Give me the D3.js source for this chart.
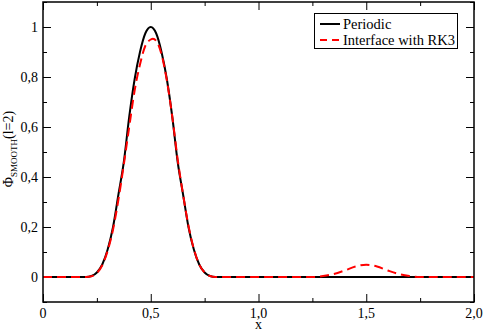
<!DOCTYPE html>
<html>
<head>
<meta charset="utf-8">
<script src="https://cdn.jsdelivr.net/npm/d3@7"></script>
<style>
  body { margin: 0; background: #fff; }
</style>
</head>
<body>
<div id="main"></div>
<script>
// values
var periodicX = [0, 0.1, 0.2, 0.225, 0.25, 0.275, 0.3, 0.325, 0.35, 0.375, 0.4, 0.425, 0.45, 0.475, 0.5,
                 0.525, 0.55, 0.575, 0.6, 0.625, 0.65, 0.675, 0.7, 0.725, 0.75, 0.775, 0.8, 0.9, 1.0, 1.5, 2.0];
var periodicY = [0, 0, 0, 0.004, 0.018, 0.05, 0.11, 0.2, 0.33, 0.46, 0.64, 0.79, 0.9, 0.975, 1.0,
                 0.975, 0.9, 0.79, 0.64, 0.46, 0.33, 0.2, 0.11, 0.05, 0.018, 0.004, 0, 0, 0, 0, 0];

var rk3X = [0, 0.1, 0.2, 0.225, 0.25, 0.275, 0.3, 0.325, 0.35, 0.375, 0.4, 0.425, 0.45, 0.475, 0.5, 0.51,
            0.525, 0.55, 0.575, 0.6, 0.625, 0.65, 0.675, 0.7, 0.725, 0.75, 0.775, 0.8, 0.9, 1.0,
            1.25, 1.3, 1.35, 1.4, 1.45, 1.5, 1.55, 1.6, 1.65, 1.7, 1.75, 2.0];
var rk3Y = [0, 0, 0, 0.003, 0.016, 0.047, 0.105, 0.19, 0.31, 0.45, 0.6, 0.745, 0.85, 0.925, 0.95, 0.953,
            0.945, 0.89, 0.785, 0.64, 0.47, 0.33, 0.205, 0.112, 0.05, 0.018, 0.004, 0, 0, 0,
            0, 0.004, 0.012, 0.026, 0.042, 0.049, 0.042, 0.026, 0.012, 0.004, 0, 0];

var xMajor = [0, 0.5, 1.0, 1.5, 2.0];
var xMajorLabels = ["0", "0,5", "1,0", "1,5", "2,0"];
var xMinor = [0.25, 0.75, 1.25, 1.75];
var yMajor = [0, 0.2, 0.4, 0.6, 0.8, 1];
var yMajorLabels = ["0", "0,2", "0,4", "0,6", "0,8", "1"];
var yMinor = [-0.1, 0.1, 0.3, 0.5, 0.7, 0.9, 1.1];
var seriesNames = ["Periodic", "Interface with RK3"];

var width = 485, height = 331;
var pl = 43, pr = 474, pt = 2, pb = 302;
var serif = 'Liberation Serif';

var svg = d3.select('#main').append('svg')
    .attr('width', width).attr('height', height);

var x = d3.scaleLinear().domain([0, 2]).range([pl, pr]);
var y = d3.scaleLinear().domain([-0.1, 1.1]).range([pb, pt]);

// inward ticks on all four sides
function ticks(g, axis, size) {
    g.call(axis.tickSize(size).tickFormat(''));
    g.select('.domain').remove();
    g.selectAll('line').attr('stroke', '#000').attr('stroke-width', 1);
}
svg.append('g').attr('transform', 'translate(0,' + pb + ')')
    .call(ticks, d3.axisTop(x).tickValues(xMajor), 8);
svg.append('g').attr('transform', 'translate(0,' + pb + ')')
    .call(ticks, d3.axisTop(x).tickValues(xMinor), 4);
svg.append('g').attr('transform', 'translate(0,' + pt + ')')
    .call(ticks, d3.axisBottom(x).tickValues(xMajor), 8);
svg.append('g').attr('transform', 'translate(0,' + pt + ')')
    .call(ticks, d3.axisBottom(x).tickValues(xMinor), 4);
svg.append('g').attr('transform', 'translate(' + pl + ',0)')
    .call(ticks, d3.axisRight(y).tickValues(yMajor), 8);
svg.append('g').attr('transform', 'translate(' + pl + ',0)')
    .call(ticks, d3.axisRight(y).tickValues(yMinor), 4);
svg.append('g').attr('transform', 'translate(' + pr + ',0)')
    .call(ticks, d3.axisLeft(y).tickValues(yMajor), 8);
svg.append('g').attr('transform', 'translate(' + pr + ',0)')
    .call(ticks, d3.axisLeft(y).tickValues(yMinor), 4);

// tick labels
svg.selectAll('.xl').data(xMajor).enter().append('text')
    .attr('x', function(d) { return x(d); }).attr('y', 318)
    .attr('text-anchor', 'middle').attr('font-size', 14).attr('font-family', serif)
    .text(function(d, i) { return xMajorLabels[i]; });
svg.selectAll('.yl').data(yMajor).enter().append('text')
    .attr('x', 38).attr('y', function(d) { return y(d) + 5; })
    .attr('text-anchor', 'end').attr('font-size', 14).attr('font-family', serif)
    .text(function(d, i) { return yMajorLabels[i]; });

// axis titles
svg.append('text').attr('x', (pl + pr) / 2).attr('y', 329)
    .attr('text-anchor', 'middle').attr('font-size', 14).attr('font-family', serif).text('x');
var yt = svg.append('text').attr('transform', 'translate(13,149) rotate(-90)')
    .attr('text-anchor', 'middle').attr('font-size', 14).attr('font-family', serif);
yt.append('tspan').text('Φ');
yt.append('tspan').attr('font-size', 9).attr('dy', 4).text('SMOOTH');
yt.append('tspan').attr('dy', -4).text('(l=2)');

// curves
var line = d3.line()
    .x(function(d) { return x(d[0]); })
    .y(function(d) { return y(d[1]); })
    .curve(d3.curveMonotoneX);

svg.append('path').datum(d3.zip(periodicX, periodicY))
    .attr('d', line).attr('fill', 'none')
    .attr('stroke', '#000').attr('stroke-width', 2);
svg.append('path').datum(d3.zip(rk3X, rk3Y))
    .attr('d', line).attr('fill', 'none')
    .attr('stroke', '#ff0000').attr('stroke-width', 2)
    .attr('stroke-dasharray', '9,5');

// frame
svg.append('rect').attr('x', pl).attr('y', pt)
    .attr('width', pr - pl).attr('height', pb - pt)
    .attr('fill', 'none').attr('stroke', '#000').attr('stroke-width', 1.5);

// legend
var lg = svg.append('g');
lg.append('rect').attr('x', 314.5).attr('y', 13.5).attr('width', 143).attr('height', 35)
    .attr('fill', '#fff').attr('stroke', '#000').attr('stroke-width', 1);
var styles = [{ c: '#000', dash: null }, { c: '#ff0000', dash: '7,5' }];
seriesNames.forEach(function(name, i) {
    var ly = 24 + i * 16;
    lg.append('line').attr('x1', 320).attr('x2', 340).attr('y1', ly).attr('y2', ly)
        .attr('stroke', styles[i].c).attr('stroke-width', 2)
        .attr('stroke-dasharray', styles[i].dash);
    lg.append('text').attr('x', 343).attr('y', ly + 4.5).attr('font-size', 14.5)
        .attr('font-family', serif).text(name);
});
</script>
</body>
</html>
